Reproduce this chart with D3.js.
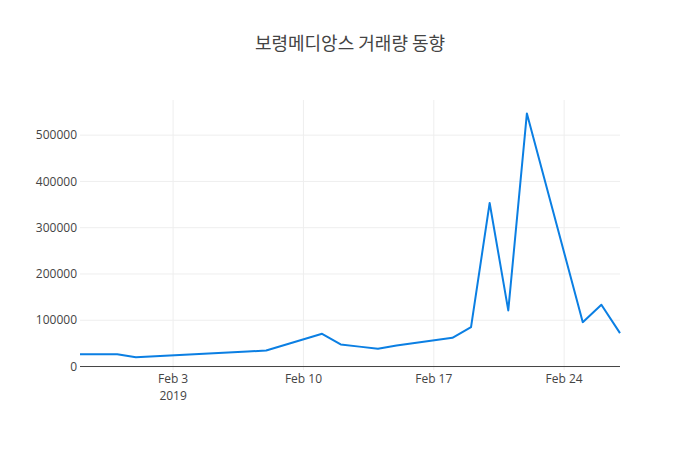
<!DOCTYPE html>
<html>
<head>
<meta charset="utf-8">
<script src="https://cdn.jsdelivr.net/npm/d3@7"></script>
<style>
  body { margin: 0; background: #fff; }
  svg text { font-family: "Open Sans", verdana, arial, sans-serif; fill: #444; }
</style>
</head>
<body>
<div id="chart"></div>
<script>
// trading days (Seollal holiday Feb 4-6 has no rows)
const dates = [
  "2019-01-29", "2019-01-30", "2019-01-31", "2019-02-01", "2019-02-07",
  "2019-02-08", "2019-02-11", "2019-02-12", "2019-02-13", "2019-02-14",
  "2019-02-15", "2019-02-18", "2019-02-19", "2019-02-20", "2019-02-21",
  "2019-02-22", "2019-02-25", "2019-02-26", "2019-02-27"
];
const volumes = [
  26600, 26600, 26600, 20100, 32500,
  34600, 70700, 47800, 43000, 38300,
  45400, 62100, 85000, 353500, 121200,
  547000, 95900, 133500, 72100
];
const yTicks = [0, 100000, 200000, 300000, 400000, 500000];
const xTickDates = ["2019-02-03", "2019-02-10", "2019-02-17", "2019-02-24"];
const title = "보령메디앙스 거래량 동향";

const width = 700, height = 450;
const margin = { top: 100, right: 80, bottom: 80, left: 80 };
const parse = d3.utcParse("%Y-%m-%d");

const data = dates.map((d, i) => ({ date: parse(d), value: volumes[i] }));

const svg = d3.select("#chart")
  .append("svg")
  .attr("width", width)
  .attr("height", height);

const x = d3.scaleUtc()
  .domain(d3.extent(data, d => d.date))
  .range([margin.left, width - margin.right]);

const y = d3.scaleLinear()
  .domain([-7500, 576000])
  .range([height - margin.bottom, margin.top]);

// grid
svg.append("g")
  .selectAll("line")
  .data(xTickDates.map(parse))
  .join("line")
  .attr("x1", d => x(d)).attr("x2", d => x(d))
  .attr("y1", margin.top).attr("y2", height - margin.bottom)
  .attr("stroke", "#eee");

svg.append("g")
  .selectAll("line")
  .data(yTicks.filter(t => t > 0))
  .join("line")
  .attr("x1", margin.left).attr("x2", width - margin.right)
  .attr("y1", d => y(d)).attr("y2", d => y(d))
  .attr("stroke", "#eee");

// zero line
svg.append("line")
  .attr("x1", margin.left).attr("x2", width - margin.right)
  .attr("y1", y(0)).attr("y2", y(0))
  .attr("stroke", "#444");

// y labels
svg.append("g")
  .selectAll("text")
  .data(yTicks)
  .join("text")
  .attr("x", margin.left - 3)
  .attr("y", d => y(d))
  .attr("dy", "0.35em")
  .attr("text-anchor", "end")
  .style("font-size", "12px")
  .text(d => d);

// x labels, year only under the first tick
const fmt = d3.utcFormat("%b %-d");
const xg = svg.append("g");
xg.selectAll("text.day")
  .data(xTickDates.map(parse))
  .join("text")
  .attr("class", "day")
  .attr("x", d => x(d))
  .attr("y", height - margin.bottom + 13)
  .attr("text-anchor", "middle")
  .style("font-size", "12px")
  .text(d => fmt(d));
xg.selectAll("text.year")
  .data(xTickDates.slice(0, 1).map(parse))
  .join("text")
  .attr("class", "year")
  .attr("x", d => x(d))
  .attr("y", height - margin.bottom + 30)
  .attr("text-anchor", "middle")
  .style("font-size", "12px")
  .text(d => d.getUTCFullYear());

// line
const line = d3.line()
  .x(d => x(d.date))
  .y(d => y(d.value));

svg.append("path")
  .datum(data)
  .attr("fill", "none")
  .attr("stroke", "#0b7fe3")
  .attr("stroke-width", 2)
  .attr("stroke-linejoin", "round")
  .attr("d", line);

// title
svg.append("text")
  .attr("x", width / 2)
  .attr("y", 50)
  .attr("text-anchor", "middle")
  .style("font-family", "'Noto Sans CJK KR', 'Open Sans', sans-serif")
  .style("font-size", "18px")
  .text(title);
</script>
</body>
</html>
